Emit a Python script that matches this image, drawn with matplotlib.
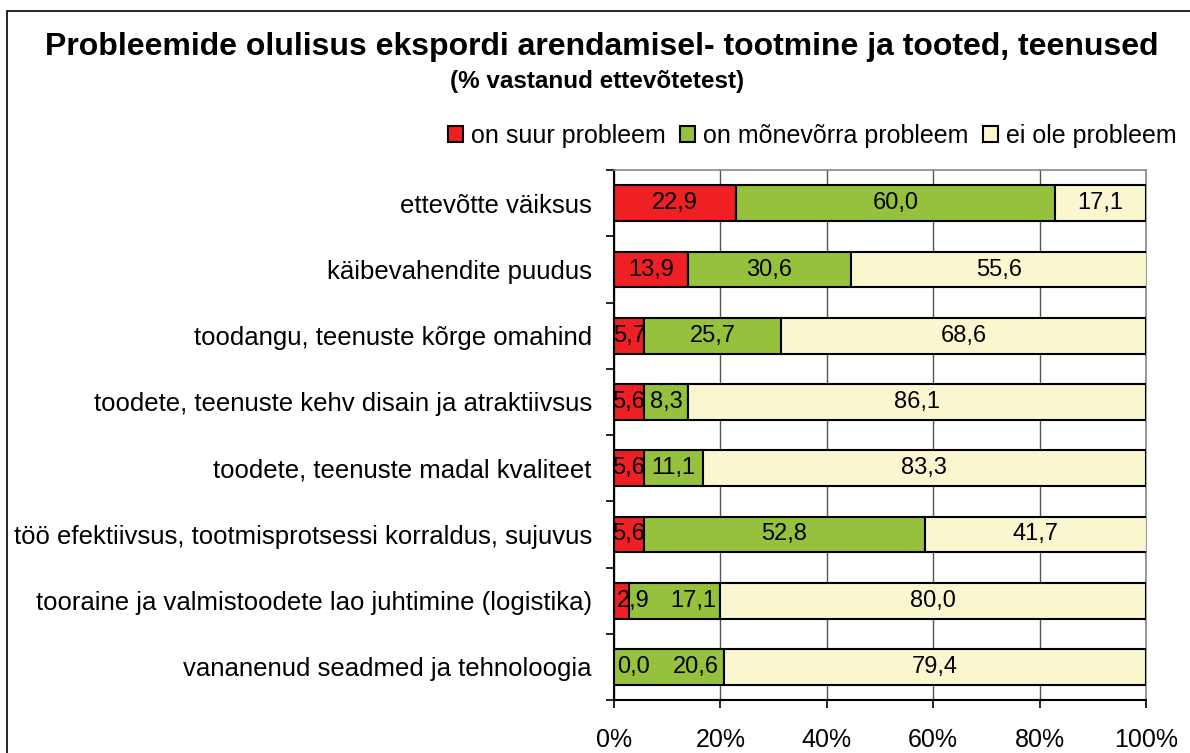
import numpy as np
import matplotlib.pyplot as plt
from matplotlib.patches import Rectangle

categories = [
    "ettevõtte väiksus",
    "käibevahendite puudus",
    "toodangu, teenuste kõrge omahind",
    "toodete, teenuste kehv disain ja atraktiivsus",
    "toodete, teenuste madal kvaliteet",
    "töö efektiivsus, tootmisprotsessi korraldus, sujuvus",
    "tooraine ja valmistoodete lao juhtimine (logistika)",
    "vananenud seadmed ja tehnoloogia",
]
big_problem = [22.9, 13.9, 5.7, 5.6, 5.6, 5.6, 2.9, 0.0]
some_problem = [60.0, 30.6, 25.7, 8.3, 11.1, 52.8, 17.1, 20.6]
no_problem = [17.1, 55.6, 68.6, 86.1, 83.3, 41.7, 80.0, 79.4]
series_names = ["on suur probleem", "on mõnevõrra probleem", "ei ole probleem"]

colors = ["#EE2024", "#96C13C", "#FAF7D0"]

plt.rcParams['font.family'] = ['Liberation Sans', 'DejaVu Sans']

fig = plt.figure(figsize=(11.9, 7.53), dpi=100)
ax = fig.add_axes([0.516, 0.0704, 0.963 - 0.516, 0.774 - 0.0704])

# border of the chart area (only left and top are visible)
fig.patches.append(Rectangle((0.006, -0.1), 1.2, 1.085, transform=fig.transFigure,
                             fill=False, edgecolor='black', linewidth=1.2))

ax.set_xlim(0, 100)
ax.set_ylim(len(categories) - 0.5, -0.5)

y = np.arange(len(categories))
data = [big_problem, some_problem, no_problem]
left = np.zeros(len(categories))
labels = []
for vals, col, name in zip(data, colors, series_names):
    vals = np.array(vals)
    ax.barh(y, vals, left=left, height=0.54, color=col, edgecolor='black',
            linewidth=1.5, label=name, zorder=3)
    row = []
    for yi, (l, v) in enumerate(zip(left, vals)):
        t = ax.text(l + v / 2, yi, f"{v:.1f}".replace('.', ','), ha='center',
                    va='center', fontsize=17, zorder=4)
        row.append((t, l, v))
    labels.append(row)
    left = left + vals

# Excel style: a label that would stick out left of the axis is pushed inside,
# and the next label of that bar then moves to the end of its segment
renderer = fig.canvas.get_renderer()
px2data = 100.0 / ax.bbox.width
for yi in range(len(categories)):
    t, l, v = labels[0][yi]
    w = t.get_window_extent(renderer).width * px2data
    if l + v / 2 - w / 2 < -0.5:
        t.set_x(w / 2 + 0.5)
        t2, l2, v2 = labels[1][yi]
        t2.set_ha('right')
        t2.set_x(l2 + v2 - 0.8)

ax.set_yticks(y)
ax.set_yticklabels(categories, fontsize=18.5)
ax.set_yticks(np.arange(-0.5, len(categories), 1), minor=True)
ax.tick_params(axis='y', which='major', length=0, pad=16)
ax.tick_params(axis='y', which='minor', length=6, width=1.2, direction='out')
ax.set_xticks(np.arange(0, 101, 20))
ax.set_xticklabels([f"{v}%" for v in range(0, 101, 20)], fontsize=18)
ax.tick_params(axis='x', length=6, width=1.2, pad=14)
ax.grid(axis='x', color='#555555', linewidth=1, zorder=0)

for s in ['top', 'right']:
    ax.spines[s].set_color('#888888')
    ax.spines[s].set_linewidth(1.2)
for s in ['left', 'bottom']:
    ax.spines[s].set_color('black')
    ax.spines[s].set_linewidth(1.5)

fig.text(0.506, 0.937, "Probleemide olulisus ekspordi arendamisel- tootmine ja tooted, teenused",
         ha='center', va='center', fontsize=23, fontweight='bold')
fig.text(0.502, 0.892, "(% vastanud ettevõtetest)", ha='center', va='center',
         fontsize=17.5, fontweight='bold')

fig.legend(loc='center right', bbox_to_anchor=(0.997, 0.82), ncol=3, frameon=False,
           fontsize=18, handlelength=0.6, handleheight=0.6, handletextpad=0.3,
           columnspacing=0.6, borderaxespad=0.0)

fig.savefig("out.png", dpi=100)
